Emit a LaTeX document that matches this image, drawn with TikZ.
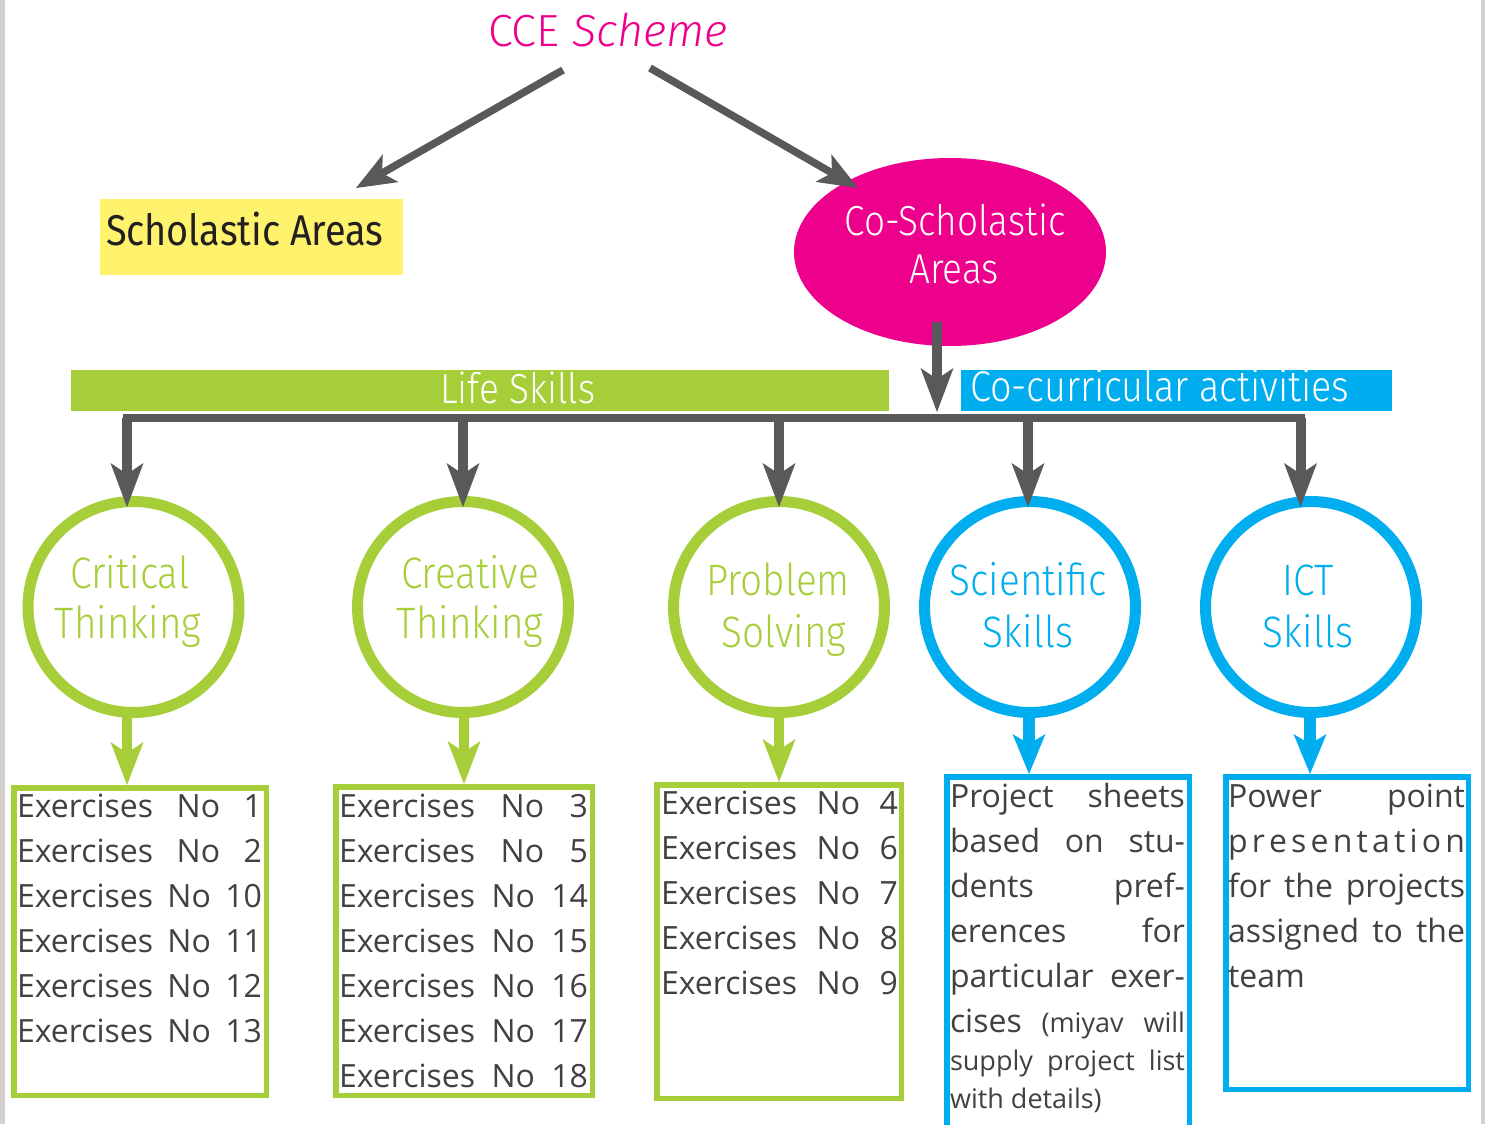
\documentclass[tikz,border=0pt]{standalone}
\usepackage{fontspec}
\setmainfont{Open Sans}
\newfontfamily\headfont[FakeStretch=0.88]{Fira Sans Light}
\newfontfamily\headfontr[FakeStretch=0.88]{Fira Sans}
\newfontfamily\titlefont{Fira Sans Light}
\usetikzlibrary{arrows.meta,shapes.geometric,calc}
\definecolor{cmag}{HTML}{EC008C}
\definecolor{cgreen}{HTML}{A6CE39}
\definecolor{cblue}{HTML}{00AEEF}
\definecolor{cgray}{HTML}{58595B}
\definecolor{cyel}{HTML}{FFF36D}
\definecolor{cstrip}{HTML}{D5D0CE}
\definecolor{ctext}{HTML}{414042}
\definecolor{cdark}{HTML}{231F20}
\newcommand\exl[1]{\hbox to\hsize{Exercises\hfill No\hfill #1}}
\newcommand\jl[1]{\hbox to\hsize{#1}}
\begin{document}
\begin{tikzpicture}[x=1pt,y=-1pt,
  gtip/.tip={Stealth[length=44pt,width=33pt,inset=11pt,line width=0pt]},
  dtip/.tip={Stealth[length=40pt,width=32pt,inset=10pt,line width=0pt]},
  ltip/.tip={Stealth[length=43pt,width=33pt,inset=11pt,line width=0pt]},
  btip/.tip={Stealth[length=40pt,width=33pt,inset=10pt,line width=0pt]},
  hd/.style={inner sep=0pt, outer sep=0pt, anchor=base},
  hdw/.style={inner sep=0pt, outer sep=0pt, anchor=base west},
  circfont/.style={font=\headfont\fontsize{44}{50}\selectfont},
  gline/.style={draw=cgray, line width=8pt, line cap=rect},
  garr/.style={draw=cgray, line width=10pt, -gtip},
  darr/.style={draw=cgray, line width=7.5pt, -dtip},
  larr/.style={draw=cgreen, line width=10.5pt, -ltip, shorten >=2.75pt},
  barr/.style={draw=cblue, line width=12pt, -btip, shorten >=2.75pt},
  ring/.style={circle, line width=11pt, minimum size=211pt, inner sep=0pt, outer sep=0pt},
  exbox/.style={rectangle, line width=5.5pt, inner sep=0pt, outer sep=0pt, anchor=north west},
  band/.style={rectangle, inner sep=0pt, outer sep=0pt, anchor=north west, minimum height=41pt},
  body/.style={inner sep=0pt, outer sep=0pt, anchor=base west, text=ctext, font=\fontsize{32}{45}\selectfont}
]
\useasboundingbox (0,0) rectangle (1485,1124);
\fill[white] (0,0) rectangle (1485,1124);
\fill[cstrip] (0,0) rectangle (5,1124);
\fill[cstrip] (1481,0) rectangle (1485,1124);

% title
\node[hdw, text=cmag, font=\titlefont\fontsize{45}{50}\selectfont] (cce) at (488,47) {CCE {\itshape Scheme}};

% scholastic
\node[rectangle, fill=cyel, minimum width=303pt, minimum height=76pt, inner sep=0pt, outer sep=0pt, anchor=north west] (scho) at (100,199) {};
\node[hdw, text=cdark, font=\headfontr\fontsize{43}{50}\selectfont] (schoT) at (106,245) {Scholastic Areas};

% co-scholastic
\node[ellipse, fill=cmag, minimum width=312pt, minimum height=188pt, inner sep=0pt, outer sep=0pt] (cos) at (950,252) {};
\node[hd, text=white, font=\headfont\fontsize{42}{48}\selectfont] (cosA) at (955,235) {Co-Scholastic};
\node[hd, text=white, font=\headfont\fontsize{42}{48}\selectfont] (cosB) at (954,283) {Areas};

\draw[darr] ($(cce.base west)+(75,23)$) -- ($(scho.north east)+(-47,-11)$);
\draw[darr] ($(cce.base west)+(162,21)$) -- ($(cos.north)+(-92,30)$);

% bands
\node[band, fill=cgreen, minimum width=818pt] (life) at (71,370) {};
\node[hdw, text=white, font=\headfont\fontsize{42}{48}\selectfont] (lifeT) at (440,403) {Life Skills};
\node[band, fill=cblue, minimum width=431pt] (cocu) at (961,370) {};
\node[hdw, text=white, font=\headfont\fontsize{43}{48}\selectfont] (cocuT) at (970,401) {Co-curricular activities};

% circles
\node[ring, draw=cgreen] (crit) at (133.5,607) {};
\node[hd, circfont, text=cgreen] (critA) at (130,588) {Critical};
\node[hd, circfont, text=cgreen] (critB) at (128,638) {Thinking};
\node[ring, draw=cgreen] (crea) at (463,607) {};
\node[hd, circfont, text=cgreen] (creaA) at (470,588) {Creative};
\node[hd, circfont, text=cgreen] (creaB) at (470,638) {Thinking};
\node[ring, draw=cgreen] (prob) at (779,607) {};
\node[hd, circfont, text=cgreen] (probA) at (778,595) {Problem};
\node[hd, circfont, text=cgreen] (probB) at (784,647) {Solving};
\node[ring, draw=cblue] (sci) at (1030,607) {};
\node[hd, circfont, text=cblue] (sciA) at (1028,595) {Scientific};
\node[hd, circfont, text=cblue] (sciB) at (1028,647) {Skills};
\node[ring, draw=cblue] (ict) at (1311,607) {};
\node[hd, circfont, text=cblue] (ictA) at (1308,595) {ICT};
\node[hd, circfont, text=cblue] (ictB) at (1308,647) {Skills};

% central arrow and bus
\draw[garr] ($(cos.south)+(-13,-24)$) -- ($(cos.south)+(-13,66)$);
\coordinate (bus) at (700,418);
\coordinate (critTop) at ($(crit.north)+(-6.5,5.5)$);
\coordinate (creaTop) at ($(crea.north)+(0,5.5)$);
\coordinate (probTop) at ($(prob.north)+(0,5.5)$);
\coordinate (sciTop) at ($(sci.north)+(-2,5.5)$);
\coordinate (ictTop) at ($(ict.north)+(-10.5,5.5)$);
\draw[gline] (critTop |- bus) -- (ictTop |- bus);
\foreach \t in {critTop,creaTop,probTop,sciTop,ictTop}
  \draw[garr] (\t |- bus) -- (\t);

% boxes
\node[exbox, draw=cgreen, minimum width=252.5pt, minimum height=307.5pt] (ex1) at (13.75,787.75) {};
\node[exbox, draw=cgreen, minimum width=256.5pt, minimum height=308.5pt] (ex2) at (335.75,786.75) {};
\node[exbox, draw=cgreen, minimum width=244.5pt, minimum height=313.5pt] (ex3) at (656.75,784.75) {};
\node[exbox, draw=cblue, minimum width=242.5pt, minimum height=370pt] (proj) at (946.75,776.75) {};
\node[exbox, draw=cblue, minimum width=242.5pt, minimum height=312.5pt] (pow) at (1225.75,776.75) {};

% lower arrows
\coordinate (critBot) at ($(crit.south)+(-6.5,0)$);
\coordinate (creaBot) at ($(crea.south)+(1,0)$);
\coordinate (probBot) at ($(prob.south)+(0,0)$);
\coordinate (sciBot) at ($(sci.south)+(-1,0)$);
\coordinate (ictBot) at ($(ict.south)+(-1,0)$);
\draw[larr] (critBot) -- (critBot |- ex1.north);
\draw[larr] (creaBot) -- (creaBot |- ex2.north);
\draw[larr] (probBot) -- (probBot |- ex3.north);
\draw[barr] (sciBot) -- (sciBot |- proj.north);
\draw[barr] (ictBot) -- (ictBot |- pow.north);

% box texts
\node[body] (ex1T) at (17,817) {\vtop{\hsize=245pt\baselineskip=45pt
  \exl{1}\exl{2}\exl{10}\exl{11}\exl{12}\exl{13}}};
\node[body] (ex2T) at (339,817) {\vtop{\hsize=249pt\baselineskip=45pt
  \exl{3}\exl{5}\exl{14}\exl{15}\exl{16}\exl{17}\exl{18}}};
\node[body] (ex3T) at (661,814) {\vtop{\hsize=237pt\baselineskip=45pt
  \exl{4}\exl{6}\exl{7}\exl{8}\exl{9}}};
\node[body] (projT) at (950,807) {\vtop{\hsize=235pt\baselineskip=45pt
  \jl{Project\hfill sheets}
  \jl{based\hfill on\hfill stu-}
  \jl{dents\hfill pref-}
  \jl{erences\hfill for}
  \jl{particular\hfill exer-}
  \jl{cises\hfill{\fontsize{27}{38}\selectfont (miyav\hfill will}}
  \baselineskip=38pt
  \jl{\fontsize{27}{38}\selectfont supply\hfill project\hfill list}
  \hbox{\fontsize{27}{38}\selectfont with details)}}};
\node[body] (powT) at (1228,807) {\vtop{\hsize=237pt\baselineskip=45pt
  \jl{Power\hfill point}
  \jl{p\hfill r\hfill e\hfill s\hfill e\hfill n\hfill t\hfill a\hfill t\hfill i\hfill o\hfill n}
  \jl{for\hfill the\hfill projects}
  \jl{assigned\hfill to\hfill the}
  \hbox{team}}};
\end{tikzpicture}
\end{document}
